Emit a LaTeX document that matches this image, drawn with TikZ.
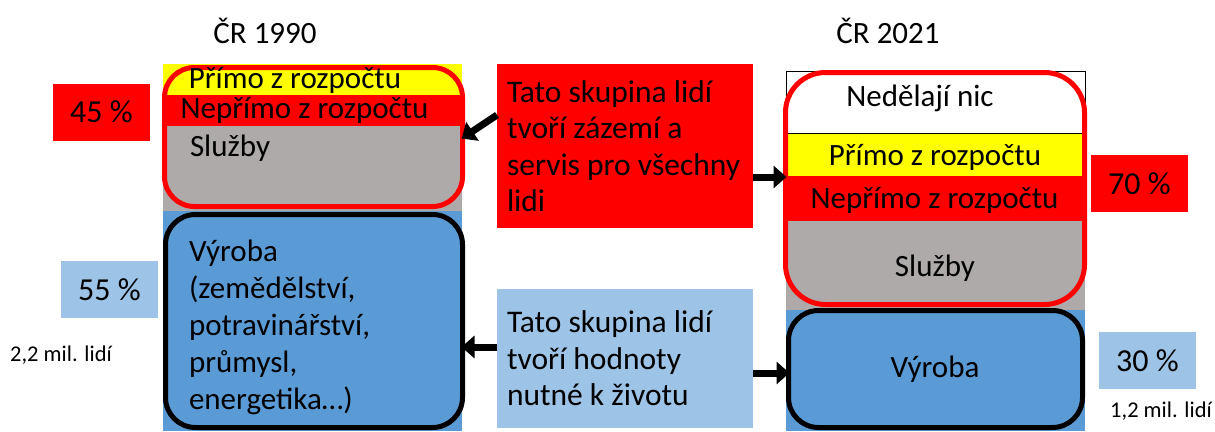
\documentclass[tikz,border=0pt]{standalone}
\usepackage{fontspec}
\setmainfont{Carlito}
\usetikzlibrary{arrows.meta}
\definecolor{cyellow}{HTML}{FFFF00}
\definecolor{cred}{HTML}{FF0000}
\definecolor{cgray}{HTML}{AEAAAA}
\definecolor{cblue}{HTML}{5B9BD5}
\definecolor{clight}{HTML}{9DC3E6}
\newcommand{\fsz}[2]{\fontsize{#1}{#2}\selectfont}
\tikzset{
  band/.style={inner sep=0, outer sep=0, anchor=north west},
  redframe/.style={draw=cred, line width=5pt, inner sep=0, outer sep=0},
  blackframe/.style={draw=black, line width=5pt, inner sep=0, outer sep=0},
  pct/.style={inner sep=0, outer sep=0, minimum width=97pt, minimum height=57pt, font=\fsz{32}{38}},
  lbl/.style={inner sep=0, outer sep=0, font=\fsz{31}{36}},
  big/.style={inner sep=0, outer sep=0, font=\fsz{31}{37}},
  mil/.style={inner sep=0, outer sep=0, font=\fsz{22.5}{26}},
  txtbox/.style={inner sep=10pt, outer sep=0, minimum width=256pt, text width=236pt, align=flush left, font=\fsz{31.5}{36.5}},
  arr/.style={line width=7pt, -{Triangle[length=13pt,width=22pt]}, shorten >=-1pt},
}
\begin{document}
\begin{tikzpicture}[x=1pt,y=-1pt]
\useasboundingbox (0,0) rectangle (1215,431);
% titles
\node[big] (t1) at (265,31) {ČR 1990};
\node[big] (t2) at (888,31) {ČR 2021};
% left column bands
\node[band, fill=cyellow, minimum width=299pt, minimum height=31pt] (ly) at (163,64) {};
\node[band, fill=cred, minimum width=299pt, minimum height=31pt] (lr) at (163,95) {};
\node[band, fill=cgray, minimum width=299pt, minimum height=85pt] (lg) at (163,126) {};
\node[band, fill=cblue, minimum width=299pt, minimum height=220pt] (lb) at (163,211) {};
\node[redframe, rounded corners=30pt, minimum width=298pt, minimum height=139pt] (lrf) at (313.5,137) {};
\node[blackframe, rounded corners=30pt, minimum width=297pt, minimum height=213pt] (lbf) at (314,321) {};
\node[lbl] (lyt) at (295,80) {Přímo z rozpočtu};
\node[lbl] (lrt) at (304.5,110) {Nepřímo z rozpočtu};
\node[lbl, anchor=west] (lgt) at (190,148) {Služby};
\node[big, anchor=west, align=left] (lbt) at (189,327) {Výroba\\(zemědělství,\\potravinářství,\\průmysl,\\energetika…)};
% right column bands
\node[band, draw=black, line width=1pt, fill=white, minimum width=299pt, minimum height=62pt] (rw) at (786,71) {};
\node[band, fill=cyellow, minimum width=299pt, minimum height=43pt] (ry) at (786,133.5) {};
\node[band, fill=cred, minimum width=299pt, minimum height=45pt] (rr) at (786,176) {};
\node[band, fill=cgray, minimum width=299pt, minimum height=89pt] (rg) at (786,221) {};
\node[band, fill=cblue, minimum width=299pt, minimum height=121pt] (rb) at (786,310) {};
\node[redframe, rounded corners=40pt, minimum width=299pt, minimum height=232pt] (rrf) at (935,188.5) {};
\node[blackframe, rounded corners=30pt, minimum width=294pt, minimum height=117pt] (rbf) at (935.5,369) {};
\node[lbl] (rwt) at (920,98) {Nedělají nic};
\node[lbl] (ryt) at (935,157) {Přímo z rozpočtu};
\node[lbl] (rrt) at (934.5,200) {Nepřímo z rozpočtu};
\node[lbl] (rgt) at (935,268) {Služby};
\node[lbl] (rbt) at (935,369) {Výroba};
% percentage boxes
\node[pct, fill=cred] (p45) at (101.5,112) {45 \%};
\node[pct, fill=clight] (p55) at (109.5,289.5) {55 \%};
\node[mil] (m22) at (61,355) {2,2 mil. lidí};
\node[pct, fill=cred] (p70) at (1139.5,183.5) {70 \%};
\node[pct, fill=clight] (p30) at (1147.5,360.5) {30 \%};
\node[mil] (m12) at (1161,411) {1,2 mil. lidí};
% middle text boxes
\node[txtbox, fill=cred, minimum height=164pt] (tb1) at (625,146) {Tato skupina lidí\\tvoří zázemí a\\servis pro všechny\\lidi};
\node[txtbox, fill=clight, minimum height=139pt] (tb2) at (625,358.5) {Tato skupina lidí\\tvoří hodnoty\\nutné k životu};
% arrows
\draw[arr] ([yshift=31pt]tb1.west) -- ([yshift=-1pt]lrf.east);
\draw[arr] ([yshift=-31pt]tb1.east) coordinate (a1) -- (a1 -| rrf.west);
\draw[arr] ([yshift=11.5pt]tb2.west) coordinate (a2) -- (a2 -| lbf.east);
\draw[arr] ([yshift=-14.5pt]tb2.east) coordinate (a3) -- (a3 -| rbf.west);
\end{tikzpicture}
\end{document}
